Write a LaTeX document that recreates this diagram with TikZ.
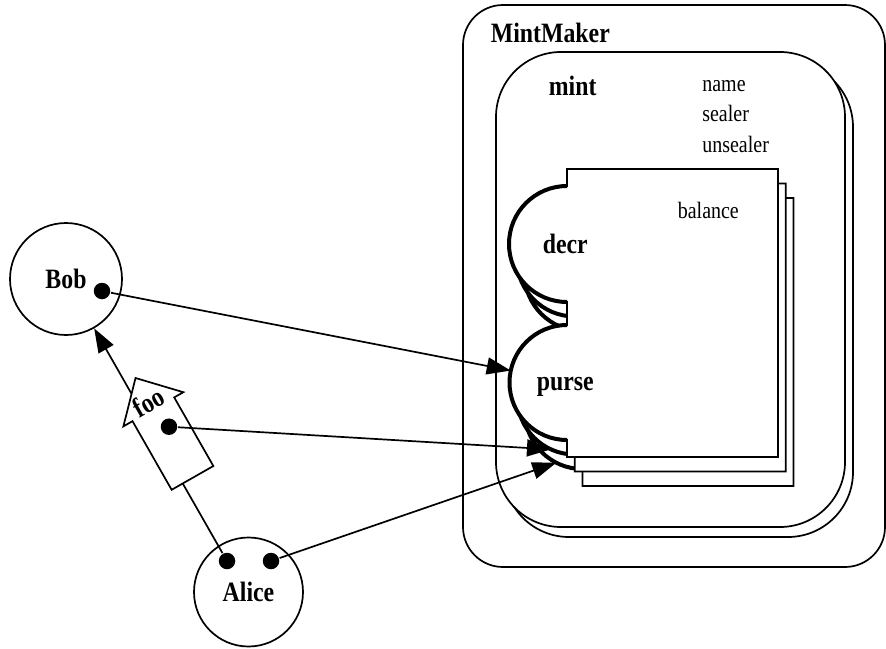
\documentclass[tikz,border=0pt]{standalone}
\usepackage{fontspec}
\setmainfont{Liberation Serif}[FakeStretch=0.85]
\usetikzlibrary{arrows.meta}

\begin{document}
\begin{tikzpicture}[x=1pt, y=-1pt, line width=1.7pt, >={Triangle[length=24pt,width=17pt]}]
    \tikzstyle{agent}=[circle, draw, font=\fontsize{28}{28}\selectfont\bfseries]
    \tikzstyle{dot}=[circle, fill, inner sep=0, minimum size=16.5pt]
    \tikzstyle{box}=[draw, fill=white, rounded corners=65pt, minimum width=349pt, minimum height=475pt]
    \tikzstyle{title}=[inner sep=0, anchor=base west, font=\fontsize{28}{28}\selectfont\bfseries]
    \tikzstyle{field}=[inner sep=0, anchor=base west, font=\fontsize{23.5}{23.5}\selectfont]
    \tikzstyle{facet}=[line width=4pt]

    \useasboundingbox (0, 0) rectangle (886, 648);

    % MintMaker and the two mints
    \node (mintmaker) [draw, rounded corners=40pt, minimum width=422pt, minimum height=562pt] at (674, 286) {};
    \node (mint-back) [box] at (678.5, 299.5) {};
    \node (mint) [box] at (670.5, 289.5) {};

    \node (mintmaker-label) [title] at (490, 42) {MintMaker};
    \node (mint-label) [title] at (548, 95) {mint};
    \node (name) [field] at (701.5, 91) {name};
    \node (sealer) [field] at (701.5, 121.5) {sealer};
    \node (unsealer) [field] at (701.5, 152) {unsealer};

    % stack of purses, back to front
    \foreach \k in {2, 1, 0} {
        \begin{scope}[shift={(567 + 7.7*\k, 169 + 14.5*\k)}]
            \draw [fill=white] (0, 0) -- (211, 0) -- (211, 288) -- (0, 288) -- (0, 271)
                arc [start angle=90, end angle=270, radius=57.5] -- (0, 133)
                arc [start angle=90, end angle=270, radius=58] -- cycle;
            \draw [facet] (0, 271) arc [start angle=90, end angle=270, radius=57.5];
            \draw [facet] (0, 133) arc [start angle=90, end angle=270, radius=58];
            \coordinate (purse-\k) at (0, 213.5);
        \end{scope}
    }

    \node (balance) [field] at (677, 218) {balance};
    \node (decr) [title] at (542, 253) {decr};
    \node (purse) [title] at (536, 390) {purse};

    % Bob and Alice
    \node (bob) [agent, minimum size=112pt] at (66, 279) {Bob};
    \node (alice) [agent, minimum size=109pt] at (248.5, 592) {Alice};
    \node (bob-dot) [dot] at (102, 291) {};
    \node (alice-dot-l) [dot] at (227, 561) {};
    \node (alice-dot-r) [dot] at (271, 561) {};

    \draw [->] (alice-dot-l) -- (bob);

    % foo, on its way to Bob
    \begin{scope}[shift={(192.5, 477.9)}, rotate=119.7]
        \draw [fill=white] (0, -24) -- (79, -24) -- (79, -34.5) -- (115, 0)
            -- (79, 34.5) -- (79, 24) -- (0, 24) -- cycle;
    \end{scope}
    \node (foo) [title, anchor=center, rotate=29.7] at (148.3, 401.7) {foo};
    \node (foo-dot) [dot] at (169, 426.7) {};

    \draw [->] (bob-dot) -- ([shift={(192:57.5)}]purse-0);
    \draw [->] (foo-dot) -- ([shift={(114.4:57.5)}]purse-1);
    \draw [->] (alice-dot-r) -- ([shift={(117:57.5)}]purse-2);

\end{tikzpicture}
\end{document}
